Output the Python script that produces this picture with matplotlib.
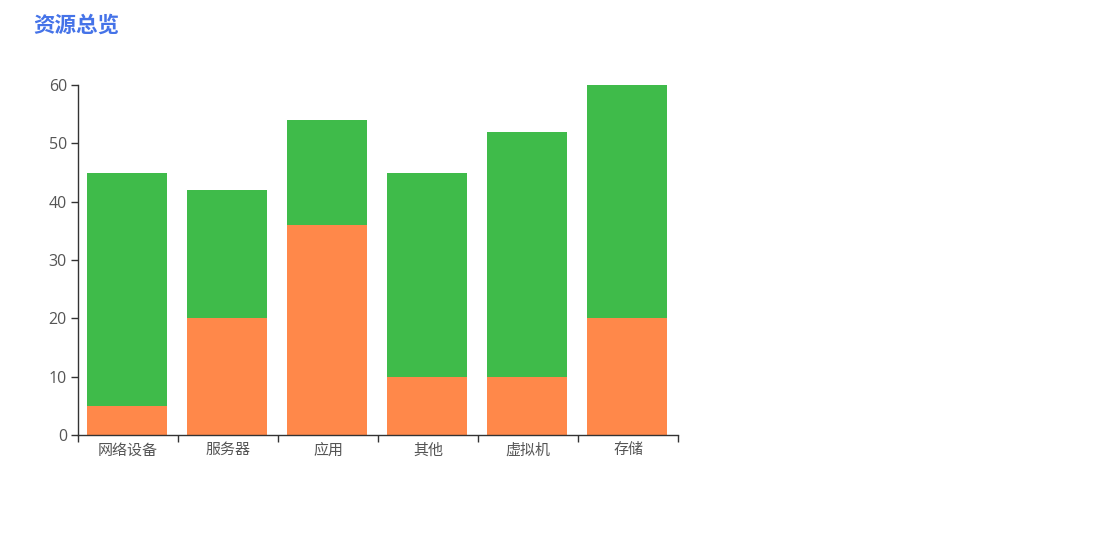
import matplotlib
matplotlib.use("Agg")
import matplotlib.pyplot as plt
import numpy as np

plt.rcParams['font.family'] = ['Noto Sans CJK SC', 'DejaVu Sans']

# data
categories = ['网络设备', '服务器', '应用', '其他', '虚拟机', '存储']
orange_vals = [5, 20, 36, 10, 10, 20]
green_vals = [40, 22, 18, 35, 42, 40]
y_ticks = [0, 10, 20, 30, 40, 50, 60]

ORANGE = '#FF884A'
GREEN = '#3FBB4A'
AXIS = '#333333'
TEXT = '#555555'

W, H = 1099, 535
fig = plt.figure(figsize=(W / 100, H / 100), dpi=100)
ax = fig.add_axes([78 / W, (H - 435) / H, 600 / W, 350 / H])

x = np.arange(len(categories))
ax.bar(x - 0.01, orange_vals, width=0.8, color=ORANGE, zorder=2)
ax.bar(x - 0.01, green_vals, width=0.8, bottom=orange_vals, color=GREEN, zorder=2)

ax.set_xlim(-0.5, len(categories) - 0.5)
ax.set_ylim(0, 60)
ax.set_yticks(y_ticks)
for lbl in ax.get_yticklabels():
    lbl.set_family(['Open Sans', 'DejaVu Sans'])

# ticks at category boundaries, labels at centers
ax.set_xticks(np.arange(len(categories) + 1) - 0.5)
ax.set_xticklabels([])
ax.set_xticks(x, minor=True)
ax.set_xticklabels(categories, minor=True)
ax.tick_params(axis='x', which='minor', length=0, pad=6, labelsize=10.8, labelcolor=TEXT)
ax.tick_params(axis='x', which='major', length=5, color=AXIS, width=1)
ax.tick_params(axis='y', length=5, color=AXIS, width=1, labelsize=11.5, labelcolor=TEXT, pad=3)

for side in ['top', 'right']:
    ax.spines[side].set_visible(False)
for side in ['left', 'bottom']:
    ax.spines[side].set_color(AXIS)
    ax.spines[side].set_linewidth(1)

fig.text(33 / W, 1 - 25 / H, '资源总览', fontsize=15.5, fontweight='bold',
         color='#4573E8', va='center', ha='left')

fig.savefig('out.png', dpi=100)
